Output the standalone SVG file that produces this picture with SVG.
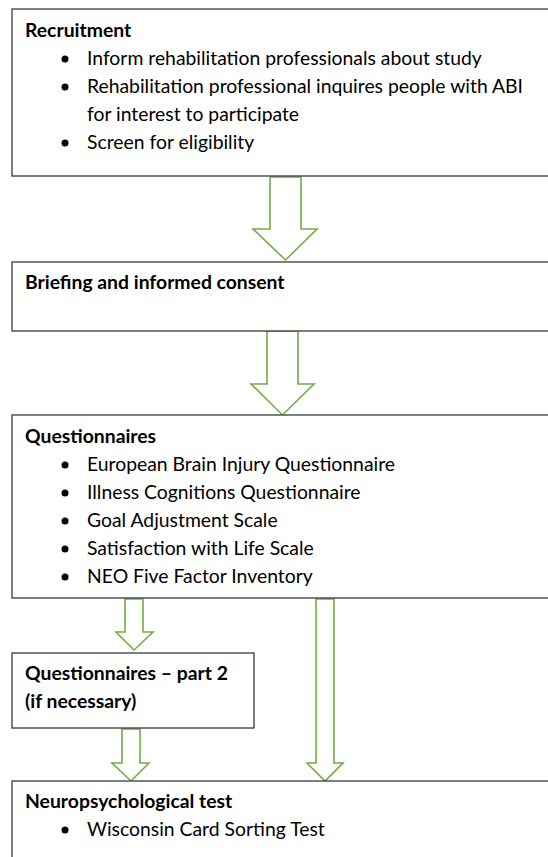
<svg xmlns="http://www.w3.org/2000/svg" width="548" height="857" viewBox="0 0 548 857">
<style>
.box{fill:#fff;stroke:#3a3a3a;stroke-width:1.3}
.arr{fill:#fff;stroke:#70ad47;stroke-width:1.6;stroke-linejoin:miter}
text{font-family:Lato,"Liberation Sans",sans-serif;font-size:19.35px;fill:#000}
.h{font-weight:bold}
.b{fill:#000}
</style>
<rect width="548" height="857" fill="#fff"/>
<g id="connectors">
<polygon class="arr" points="270,177 301,177 301,229 317,229 285.5,260 253,229 270,229"/>
<polygon class="arr" points="267,331 298,331 298,384 314,384 282.5,415 251,384 267,384"/>
<polygon class="arr" points="125,599 143,599 143,632 153,632 134,650 116,632 125,632"/>
<polygon class="arr" points="122,729 140,729 140,763 149,763 131,781 112,763 122,763"/>
<polygon class="arr" points="316,599 334,599 334,763 343,763 325,781 307,763 316,763"/>
</g>
<g id="recruitment">
<rect class="box" x="12" y="9" width="545" height="167"/>
<text class="h" x="25" y="37">Recruitment</text>
<circle class="b" cx="65" cy="59" r="3.5"/>
<text x="87" y="65">Inform rehabilitation professionals about study</text>
<circle class="b" cx="65" cy="87" r="3.5"/>
<text x="87" y="93">Rehabilitation professional inquires people with ABI</text>
<text x="87" y="121">for interest to participate</text>
<circle class="b" cx="65" cy="143" r="3.5"/>
<text x="87" y="149">Screen for eligibility</text>
</g>
<g id="briefing">
<rect class="box" x="12" y="262" width="545" height="69"/>
<text class="h" x="25" y="289">Briefing and informed consent</text>
</g>
<g id="questionnaires">
<rect class="box" x="12" y="415" width="545" height="183"/>
<text class="h" x="25" y="443">Questionnaires</text>
<circle class="b" cx="65" cy="465" r="3.5"/>
<text x="87" y="471">European Brain Injury Questionnaire</text>
<circle class="b" cx="65" cy="493" r="3.5"/>
<text x="87" y="499">Illness Cognitions Questionnaire</text>
<circle class="b" cx="65" cy="521" r="3.5"/>
<text x="87" y="527">Goal Adjustment Scale</text>
<circle class="b" cx="65" cy="549" r="3.5"/>
<text x="87" y="555">Satisfaction with Life Scale</text>
<circle class="b" cx="65" cy="577" r="3.5"/>
<text x="87" y="583">NEO Five Factor Inventory</text>
</g>
<g id="questionnaires2">
<rect class="box" x="12" y="653" width="242" height="75"/>
<text class="h" x="25" y="680">Questionnaires – part 2</text>
<text class="h" x="25" y="708">(if necessary)</text>
</g>
<g id="neuro">
<rect class="box" x="12" y="781" width="545" height="90"/>
<text class="h" x="25" y="808">Neuropsychological test</text>
<circle class="b" cx="65" cy="830" r="3.5"/>
<text x="87" y="836">Wisconsin Card Sorting Test</text>
</g>
</svg>
